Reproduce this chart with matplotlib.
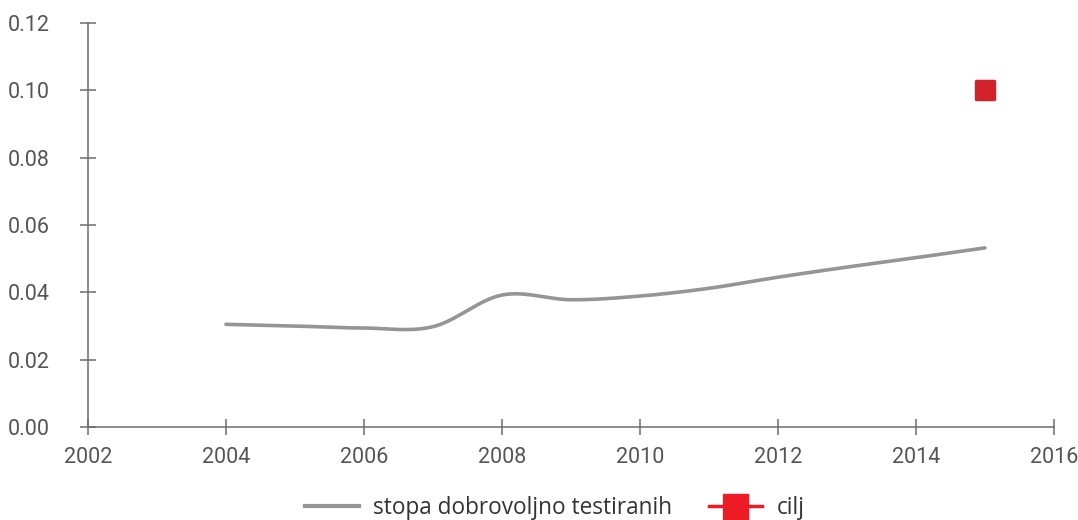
import numpy as np
import matplotlib.pyplot as plt
from matplotlib.lines import Line2D
from matplotlib.markers import MarkerStyle

# data
years = [2004, 2005, 2006, 2007, 2008, 2009, 2010, 2011, 2012, 2013, 2014, 2015]
rate = [0.0305, 0.0300, 0.0294, 0.0298, 0.0392, 0.0378, 0.0389, 0.0412, 0.0445, 0.0475, 0.0503, 0.0532]
target_year = [2015]
target_value = [0.100]

x_ticks = [2002, 2004, 2006, 2008, 2010, 2012, 2014, 2016]
y_ticks = [0.00, 0.02, 0.04, 0.06, 0.08, 0.10, 0.12]

line_label = "stopa dobrovoljno testiranih"
target_label = "cilj"


# smooth curve through the points (Catmull-Rom style)
def smooth(xs, ys, n=30):
    xs = np.asarray(xs, float)
    ys = np.asarray(ys, float)
    px = np.concatenate([[2 * xs[0] - xs[1]], xs, [2 * xs[-1] - xs[-2]]])
    py = np.concatenate([[2 * ys[0] - ys[1]], ys, [2 * ys[-1] - ys[-2]]])
    ox, oy = [], []
    for i in range(1, len(px) - 2):
        t = np.linspace(0, 1, n, endpoint=False)
        for p, out in ((px, ox), (py, oy)):
            p0, p1, p2, p3 = p[i - 1], p[i], p[i + 1], p[i + 2]
            out.extend(0.5 * ((2 * p1) + (-p0 + p2) * t
                              + (2 * p0 - 5 * p1 + 4 * p2 - p3) * t ** 2
                              + (-p0 + 3 * p1 - 3 * p2 + p3) * t ** 3))
    ox.append(xs[-1])
    oy.append(ys[-1])
    return np.array(ox), np.array(oy)


plt.rcParams['font.family'] = ['Roboto', 'DejaVu Sans']

fig = plt.figure(figsize=(10.78, 5.2), dpi=100)
ax = fig.add_axes([0.0816, 0.1788, 0.8961, 0.777])

sx, sy = smooth(years, rate)
ax.plot(sx, sy, color="#959595", lw=2.6, solid_capstyle="round", clip_on=False)
ax.plot(target_year, target_value, ls="none",
        marker=MarkerStyle("s", joinstyle="round"), ms=13, mew=2.5,
        color="#d2232a", mec="#d2232a", clip_on=False)

ax.set_xlim(2002, 2016)
ax.set_ylim(0, 0.12)
ax.set_xticks(x_ticks)
ax.set_yticks(y_ticks)
ax.set_yticklabels([f"{v:.2f}" for v in y_ticks])

for s in ["top", "right"]:
    ax.spines[s].set_visible(False)
for s in ["left", "bottom"]:
    ax.spines[s].set_color("#6d6d6d")
    ax.spines[s].set_linewidth(1.1)
ax.tick_params(axis="both", direction="inout", length=11, width=1.1,
               color="#6d6d6d", labelcolor="#555555", labelsize=15.5)
ax.tick_params(axis="x", pad=9)
ax.tick_params(axis="y", pad=22)

handles = [
    Line2D([], [], color="#959595", lw=3),
    Line2D([], [], color="#ed1c24", lw=2.5, marker="s", ms=18,
           mec="#ed1c24", mfc="#ed1c24"),
]
fig.legend(handles, [line_label, target_label], loc="center",
           bbox_to_anchor=(0.515, 0.024), ncol=2, frameon=False,
           prop={"family": ["Open Sans", "DejaVu Sans"], "size": 16.3},
           labelcolor="#333333", handlelength=2.35, columnspacing=1.6,
           handletextpad=0.66)

fig.savefig("out.png", dpi=100)
